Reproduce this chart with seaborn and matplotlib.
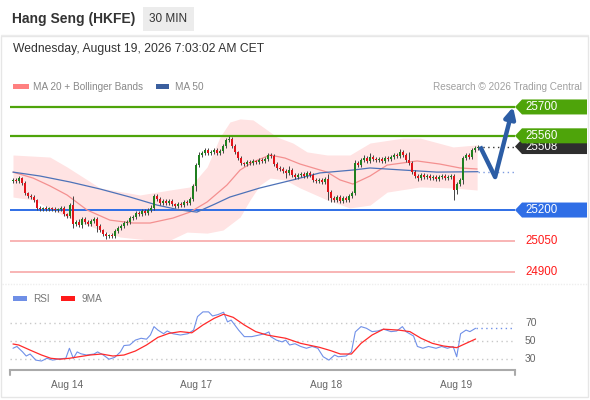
import numpy as np
import pandas as pd
import seaborn as sns
import matplotlib.pyplot as plt
from matplotlib.patches import Rectangle, Polygon
from matplotlib.lines import Line2D
import matplotlib.transforms as mtransforms

# ---- price data (30 min candles) ----
closes = [25346, 25341, 25355, 25331, 25283, 25268, 25263, 25249, 25210, 25205, 25210, 25205, 25210,
          25205, 25200, 25205, 25210, 25181, 25171, 25224, 25132, 25142, 25127, 25156, 25142, 25132,
          25147, 25156, 25122, 25103, 25084, 25074, 25079, 25074, 25098, 25113, 25122, 25137, 25142,
          25161, 25166, 25185, 25181, 25195, 25185, 25200, 25210, 25268, 25253, 25234, 25244, 25234,
          25244, 25229, 25219, 25229, 25224, 25239, 25234, 25253, 25317, 25418, 25467, 25477, 25491,
          25477, 25482, 25491, 25477, 25486, 25511, 25540, 25545, 25511, 25482, 25452, 25428, 25423,
          25433, 25428, 25438, 25433, 25443, 25438, 25448, 25467, 25462, 25423, 25404, 25399, 25389,
          25380, 25394, 25370, 25360, 25370, 25375, 25365, 25380, 25370, 25346, 25341, 25346, 25336,
          25350, 25287, 25258, 25249, 25263, 25244, 25258, 25249, 25268, 25283, 25428, 25418, 25443,
          25452, 25438, 25457, 25448, 25443, 25448, 25438, 25452, 25448, 25457, 25467, 25462, 25482,
          25467, 25443, 25428, 25384, 25365, 25355, 25370, 25360, 25365, 25355, 25360, 25350, 25360,
          25365, 25355, 25360, 25365, 25297, 25326, 25346, 25452, 25467, 25457, 25491, 25501, 25508]
first_open = 25340
wick_up = [10, 8, 12, 6, 8, 6, 8, 8, 6, 8, 6, 8, 6,
           6, 8, 6, 8, 8, 6, 10, 45, 12, 15, 8, 10, 8,
           8, 8, 10, 8, 6, 8, 6, 8, 8, 8, 10, 8, 8,
           8, 10, 8, 8, 10, 8, 8, 12, 10, 8, 10, 8, 8,
           8, 8, 6, 8, 8, 8, 8, 8, 10, 10, 15, 10, 8,
           8, 8, 8, 10, 8, 8, 10, 12, 8, 8, 6, 8, 6,
           8, 8, 8, 6, 8, 8, 8, 10, 8, 8, 8, 8, 8,
           8, 20, 8, 8, 8, 8, 8, 8, 8, 8, 8, 8, 8,
           8, 25, 8, 8, 8, 8, 8, 8, 8, 10, 15, 12, 8,
           15, 8, 20, 8, 8, 8, 8, 8, 8, 10, 8, 12, 12,
           8, 8, 40, 10, 8, 8, 10, 8, 8, 8, 8, 8, 8,
           8, 8, 8, 8, 8, 8, 8, 12, 10, 10, 10, 8, 6]
wick_dn = [8, 8, 8, 10, 8, 10, 8, 8, 10, 8, 8, 10, 8,
           8, 8, 8, 10, 8, 10, 8, 20, 10, 8, 12, 10, 8,
           8, 10, 30, 10, 8, 15, 10, 8, 8, 8, 8, 8, 8,
           8, 8, 8, 8, 8, 8, 8, 8, 8, 8, 8, 8, 8,
           8, 8, 8, 8, 8, 8, 8, 8, 10, 25, 8, 8, 8,
           8, 8, 8, 8, 8, 8, 8, 8, 8, 8, 8, 8, 8,
           8, 8, 8, 8, 8, 8, 8, 8, 8, 8, 8, 8, 8,
           25, 8, 8, 8, 8, 8, 8, 8, 8, 8, 8, 8, 8,
           8, 40, 20, 10, 8, 8, 8, 8, 8, 8, 8, 8, 8,
           8, 8, 8, 8, 8, 8, 8, 8, 8, 8, 8, 8, 8,
           8, 8, 8, 8, 8, 12, 8, 8, 8, 8, 8, 8, 8,
           8, 8, 8, 8, 50, 20, 8, 20, 8, 8, 8, 8, 8]

# moving averages / bands, sampled at bar positions
ma50_x = [0, 9, 19, 29, 39, 48, 55.7, 61.3, 67.3, 72.3, 82.3, 93.3, 102.3, 113.3, 119, 130, 141.3, 155]
ma50_y = [25384, 25365, 25336, 25302, 25263, 25224, 25200, 25190, 25229, 25263, 25307, 25346, 25380,
          25394, 25404, 25394, 25384, 25386]
ma20_x = [0, 6.7, 12.3, 18, 24.7, 32.3, 40, 45.7, 53.3, 59, 64.7, 71.3, 75.7, 80, 85.7, 90.7, 95.7,
          104.7, 109, 113.3, 119, 124.7, 134.7, 142.3, 149, 154.7]
ma20_y = [25384, 25355, 25317, 25273, 25200, 25151, 25137, 25137, 25161, 25190, 25239, 25321, 25394,
          25433, 25467, 25452, 25423, 25384, 25346, 25326, 25365, 25418, 25438, 25423, 25404, 25399]
bb_up_x = [0, 12.3, 18, 29, 42.3, 52.3, 59, 64.7, 69, 72.3, 75.7, 80, 83.3, 88, 93.3, 98, 104.7,
           112.3, 119, 130, 135.7, 146.7, 154.7]
bb_up_y = [25467, 25457, 25409, 25307, 25273, 25297, 25312, 25409, 25554, 25627, 25642, 25637, 25603,
           25554, 25525, 25482, 25467, 25467, 25525, 25549, 25549, 25506, 25516]
bb_lo_x = [0, 6.7, 18, 29, 35.7, 45.7, 52.3, 58, 64.7, 70, 75.7, 79, 82.3, 85.7, 90.7, 95.7, 104.7,
           112.3, 119, 124.7, 135.7, 146.7, 154.7]
bb_lo_y = [25263, 25249, 25166, 25103, 25069, 25054, 25054, 25093, 25088, 25103, 25166, 25249, 25321,
           25355, 25346, 25307, 25249, 25210, 25224, 25287, 25312, 25307, 25297]

# key levels
resist = [25700, 25560]
support = [25200]
minor = [25050, 24900]
last_price = 25508
proj_x = [155.7, 160.7, 166.7]
proj_y = [25508, 25360, 25700]

# RSI panel
rsi_x = [0, 1.3, 3.2, 4.4, 5.7, 7.6, 9.5, 11.3, 13.2, 15.7, 17.6, 18.8, 20.1, 21.4, 22.6, 24.5, 27,
         28.2, 30.1, 32, 33.9, 35.8, 37, 38.9, 40.8, 42.7, 44.5, 45.8, 47, 48.3, 50.2, 51.4, 53.3,
         55.8, 58.3, 60.2, 61.5, 63.3, 65.2, 66.5, 68.3, 70.2, 71.5, 72.7, 75.2, 77.1, 79.6, 82.1,
         84, 85.3, 85.9, 87.8, 89.7, 90.9, 92.2, 94, 95.9, 97.8, 99.7, 101.6, 103.4, 105.3, 107.2,
         108.4, 111, 112.8, 114.1, 116, 117.8, 119.7, 121.6, 123.5, 126, 127.9, 129.8, 131, 133.5,
         134.8, 136.6, 138.5, 141, 142.9, 144.8, 146.7, 147.9, 149.2, 151, 152.3, 154.2]
rsi_v = [42, 44, 38, 33.5, 35.7, 29, 28, 31, 29, 30.5, 31, 42, 31, 38, 36, 34.6, 35.7, 38, 34.6, 30,
         32, 38, 45, 45.6, 51, 53, 52, 56.6, 65.8, 62, 58, 61, 58, 56.6, 58, 62, 76.8, 82, 82, 77.5,
         79, 81.6, 71, 73, 62, 54.8, 54.8, 56.6, 58, 60, 54.8, 51, 49, 51, 45.6, 47, 44, 42, 44, 42,
         32.7, 29, 34.6, 32.7, 33.5, 38, 60, 65.8, 64, 60.3, 61, 63, 60.3, 61, 65.8, 60.3, 55.5, 44,
         42, 44, 42, 44, 42, 44, 32.7, 58, 62, 60.3, 64]
ma9_x = [0, 1.9, 5.7, 9.5, 12.6, 15.7, 18.8, 22, 25.7, 29.5, 33.3, 37, 40.8, 44.5, 48.3, 52, 55.8,
         59.6, 63.3, 67.1, 70.2, 73.4, 77.1, 80.9, 84.6, 90.9, 95.9, 102.2, 105.9, 109.1, 112.8, 116,
         119.7, 123.5, 128.5, 132.3, 136, 139.8, 143.5, 147.9, 151, 154.2]
ma9_v = [46.7, 45.6, 40, 34.6, 31, 30, 31, 32.7, 34.6, 35.7, 33.5, 34.6, 39, 45.6, 54, 58.4, 60.3, 59,
         67.6, 75, 79.4, 76, 67.6, 60.3, 56.6, 53, 47.4, 43, 39.4, 35.7, 35.7, 47.4, 56.6, 63, 62,
         60.3, 53, 47.4, 44.5, 42.7, 47.4, 52.2]
rsi_levels = [30, 50, 70]
day_pos = [18, 61, 104.3, 147.7]
day_labels = ['Aug 14', 'Aug 17', 'Aug 18', 'Aug 19']

GREEN = '#4ea40a'
BLUE = '#2f6ee6'
CANDLE_UP = '#1f7f1f'
CANDLE_DN = '#e0141a'

sns.set_theme(style='white')
plt.rcParams['font.family'] = ['Liberation Sans', 'DejaVu Sans']

W, H = 590, 400
fig = plt.figure(figsize=(W / 100, H / 100), dpi=100)


def fx(px):
    return px / W


def fy(py):
    return 1 - py / H


# ---- header ----
fig.add_artist(Rectangle((fx(1), fy(397)), fx(587), (396 - 35) / H, transform=fig.transFigure,
                         fill=False, ec='#e6e6e6', lw=1))
fig.add_artist(Line2D([fx(1), fx(588)], [fy(35), fy(35)], color='#ececec', lw=1))
fig.text(fx(12), fy(19), 'Hang Seng (HKFE)', fontsize=10, fontweight='bold', color='#333333',
         va='center', ha='left')
fig.add_artist(Rectangle((fx(143), fy(31)), 51 / W, 24 / H, transform=fig.transFigure,
                         fc='#ececec', ec='none'))
fig.text(fx(168.5), fy(19), '30 MIN', fontsize=8.5, color='#333333', va='center', ha='center')
fig.text(fx(13), fy(49), 'Wednesday, August 19, 2026 7:03:02 AM CET', fontsize=8.7,
         color='#333333', va='center', ha='left')

fig.add_artist(Rectangle((fx(13), fy(89)), 16 / W, 5 / H, transform=fig.transFigure,
                         fc='#ff8080', ec='none'))
fig.text(fx(33), fy(86.5), 'MA 20 + Bollinger Bands', fontsize=7.2, color='#888888', va='center')
fig.add_artist(Rectangle((fx(156), fy(89)), 13 / W, 5 / H, transform=fig.transFigure,
                         fc='#3b5f9e', ec='none'))
fig.text(fx(175), fy(86.5), 'MA 50', fontsize=7.2, color='#888888', va='center')
fig.text(fx(582), fy(86.5), 'Research \u00a9 2026 Trading Central', fontsize=7.2,
         color='#a0a0a0', va='center', ha='right')

# ---- price panel ----
ax = fig.add_axes([fx(10), fy(283), 505 / W, 188 / H])
ax.set_xlim(-1, 167.33)
ax.set_ylim(24846, 25758)
ax.axis('off')

bb_grid = np.union1d(bb_up_x, bb_lo_x)
ax.fill_between(bb_grid, np.interp(bb_grid, bb_lo_x, bb_lo_y), np.interp(bb_grid, bb_up_x, bb_up_y),
                color='#ffdede', lw=0, alpha=0.85, zorder=1)

for lvl in resist:
    ax.axhline(lvl, color=GREEN, lw=1.6, zorder=2)
for lvl in support:
    ax.axhline(lvl, color=BLUE, lw=1.4, zorder=2)
for lvl in minor:
    ax.axhline(lvl, color='#f7a8a8', lw=1.2, zorder=2)

sns.lineplot(x=ma20_x, y=ma20_y, ax=ax, color='#f49090', lw=0.9, zorder=3)
sns.lineplot(x=ma50_x, y=ma50_y, ax=ax, color='#4d72b8', lw=0.9, zorder=3)

bars = pd.DataFrame({'close': closes})
bars['open'] = bars['close'].shift(1).fillna(first_open)
bars['high'] = bars[['open', 'close']].max(axis=1) + wick_up
bars['low'] = bars[['open', 'close']].min(axis=1) - wick_dn
bars['x'] = np.arange(len(bars))
up = bars['close'] >= bars['open']
colors = np.where(up, CANDLE_UP, CANDLE_DN)
ax.vlines(bars['x'], bars['low'], bars['high'], colors='#444444', lw=0.7, zorder=4)
body_lo = bars[['open', 'close']].min(axis=1)
body_h = (bars['close'] - bars['open']).abs().clip(lower=5)
ax.bar(bars['x'], body_h, bottom=body_lo, width=0.8, color=colors, lw=0, zorder=5)

# dotted extensions to the right edge
ax.plot([bars['x'].iloc[-1], 167.33], [last_price, last_price], color='#333333', lw=1,
        ls=(0, (1, 2.5)), zorder=3)
ax.plot([ma50_x[-1], 167.33], [ma50_y[-1], ma50_y[-1]], color='#7d9be0', lw=1,
        ls=(0, (1, 2.5)), zorder=3)

# projection arrow
ax.plot(proj_x[:2], proj_y[:2], color='#2c5da5', lw=3.2, solid_capstyle='butt', zorder=6,
        clip_on=False)
ax.annotate('', xy=(proj_x[2], proj_y[2]), xytext=(proj_x[1], proj_y[1]),
            arrowprops=dict(arrowstyle='-|>', color='#2c5da5', lw=3.2, mutation_scale=16,
                            shrinkA=0, shrinkB=0), zorder=6, annotation_clip=False)

# right side tags
trans = mtransforms.blended_transform_factory(ax.transAxes, ax.transData)
x_tip, x_body, x_end = 1.0, (522 - 10) / 505, (587 - 10) / 505
half = 7.5 * 4.854


def tag(price, text, color, z):
    ax.add_patch(Polygon([(x_tip, price), (x_body, price + half), (x_end, price + half),
                          (x_end, price - half), (x_body, price - half)], closed=True,
                         transform=trans, fc=color, ec='none', clip_on=False, zorder=z))
    ax.text((525 - 10) / 505, price, text, transform=trans, color='white', fontsize=8.3,
            va='center', ha='left', clip_on=False, zorder=z + 0.5)


tag(last_price, str(last_price), '#2e2e2e', 10)
for i, lvl in enumerate(resist):
    tag(lvl, str(lvl), GREEN, 12 + i)
for lvl in support:
    tag(lvl, str(lvl), BLUE, 12)
for lvl in minor:
    ax.text((525 - 10) / 505, lvl, str(lvl), transform=trans, color='#ff1a1a', fontsize=8.3,
            va='center', ha='left', clip_on=False)

fig.add_artist(Line2D([fx(2), fx(588)], [fy(284), fy(284)], color='#eeeeee', lw=1,
                      ls=(0, (1, 1))))

# ---- RSI panel ----
ax2 = fig.add_axes([fx(10), fy(370), 505 / W, 65 / H])
ax2.set_xlim(-1, 167.33)
ax2.set_ylim(18.13, 89.56)
for s in ['top', 'left', 'right']:
    ax2.spines[s].set_visible(False)
ax2.spines['bottom'].set_color('#aaaaaa')
ax2.spines['bottom'].set_linewidth(1.5)
for lvl in rsi_levels:
    ax2.axhline(lvl, color='#c8c8c8', lw=1, ls=(0, (1, 2.5)), zorder=1)
    ax2.text((525 - 10) / 505, lvl, str(lvl), transform=mtransforms.blended_transform_factory(
        ax2.transAxes, ax2.transData), fontsize=7.5, color='#666666', va='center', ha='left')
sns.lineplot(x=rsi_x, y=rsi_v, ax=ax2, color='#7090e8', lw=0.8, zorder=3)
sns.lineplot(x=ma9_x, y=ma9_v, ax=ax2, color='#ff2a2a', lw=0.9, zorder=4)
ax2.plot([rsi_x[-1], 167.33], [rsi_v[-1], rsi_v[-1]], color='#7090e8', lw=1, ls=(0, (1, 2.5)))
ax2.set_yticks([])
ax2.set_xticks(day_pos)
ax2.set_xticklabels(day_labels, fontsize=7.3, color='#666666')
ax2.tick_params(axis='x', length=0, pad=7)
for xe in (0, 1):
    ax2.add_line(Line2D([xe, xe], [0, -0.08], transform=ax2.transAxes, color='#aaaaaa', lw=1.5,
                        clip_on=False))

fig.add_artist(Rectangle((fx(13), fy(301)), 14 / W, 5 / H, transform=fig.transFigure,
                         fc='#6f8fe6', ec='none'))
fig.text(fx(33), fy(298.5), 'RSI', fontsize=7.2, color='#777777', va='center')
fig.add_artist(Rectangle((fx(61), fy(301)), 14 / W, 5 / H, transform=fig.transFigure,
                         fc='#ff1a1a', ec='none'))
fig.text(fx(82), fy(298.5), '9MA', fontsize=7.2, color='#777777', va='center')

fig.savefig('out.png', dpi=100)
